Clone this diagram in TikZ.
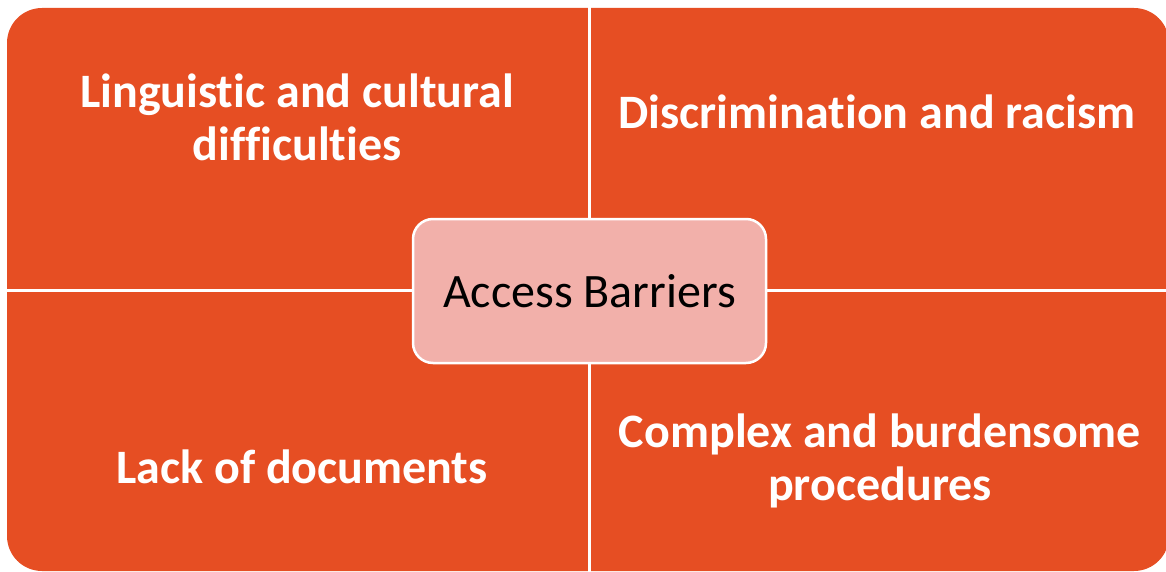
\documentclass[tikz,border=0pt]{standalone}
\usepackage{fontspec}
\setmainfont{Carlito}[Ligatures={NoCommon}]
\usetikzlibrary{positioning}

\definecolor{quadorange}{RGB}{230,78,35}
\definecolor{hubpink}{RGB}{242,176,170}

\begin{document}
\begin{tikzpicture}[x=1pt, y=-1pt,
    barrier/.style={text=white, align=center, font=\fontsize{48}{53}\selectfont\bfseries},
    hub/.style={rounded corners=20pt, fill=hubpink, draw=white, line width=2.5pt,
      minimum width=353pt, minimum height=144pt, font=\fontsize{48}{53}\selectfont}]

  \useasboundingbox (0,0) rectangle (1166,572);
  \clip (0,0) rectangle (1166,572);

  % the four quadrants as one block, split by white gaps
  \fill[quadorange, rounded corners=35pt] (7,8) rectangle (1169,571);
  \draw[white, line width=3pt] (589.5,0) -- (589.5,572);
  \draw[white, line width=3pt] (0,290.5) -- (1166,290.5);

  \node[barrier] (linguistic) at (297,117) {Linguistic and cultural\\difficulties};
  \node[barrier] (discrimination) at (877,112) {Discrimination and racism};
  \node[barrier] (documents) at (302,467) {Lack of documents};
  \node[barrier] (procedures) at (880,461) {Complex and burdensome\\procedures};

  \node[hub] (barriers) at (589.5,291) {Access Barriers};

\end{tikzpicture}
\end{document}
